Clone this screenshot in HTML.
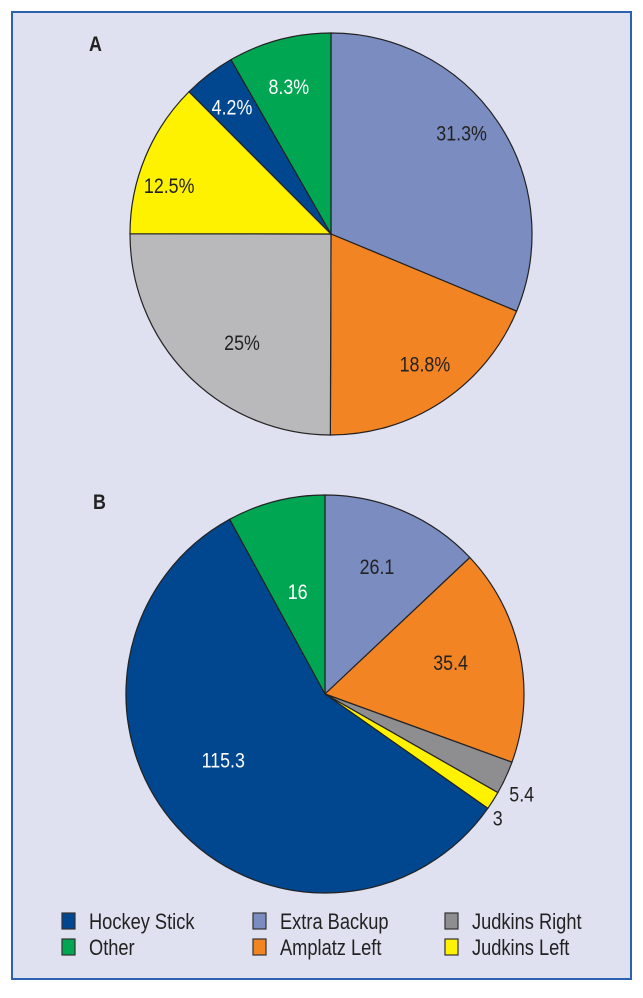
<!DOCTYPE html>
<html><head><meta charset="utf-8">
<style>
html,body{margin:0;padding:0;background:#fff;}
body{width:643px;height:993px;position:relative;overflow:hidden;font-family:"Liberation Sans",sans-serif;}
</style></head>
<body>
<svg id="chart" width="643" height="993" xmlns="http://www.w3.org/2000/svg">
<rect x="12" y="12" width="619" height="967" fill="#dfe1f0" stroke="#2a62b0" stroke-width="2"/>
<text transform="translate(89,51) scale(0.85,1)" font-family="Liberation Sans, sans-serif" font-weight="bold" font-size="21" fill="#222">A</text>
<text transform="translate(93,509) scale(0.85,1)" font-family="Liberation Sans, sans-serif" font-weight="bold" font-size="21" fill="#222">B</text>
<g id="pieA"></g>
<g id="pieB"></g>
<g id="legend"></g>
</svg>
<script>
const categoriesA = ["Extra Backup","Amplatz Left","Judkins Right","Judkins Left","Hockey Stick","Other"];
const valuesA = [31.3,18.8,25,12.5,4.2,8.3];
const labelsA = ["31.3%","18.8%","25%","12.5%","4.2%","8.3%"];
const categoriesB = ["Extra Backup","Amplatz Left","Judkins Right","Judkins Left","Hockey Stick","Other"];
const valuesB = [26.1,35.4,5.4,3,115.3,16];
const labelsB = ["26.1","35.4","5.4","3","115.3","16"];
const legendItems = ["Hockey Stick","Extra Backup","Judkins Right","Other","Amplatz Left","Judkins Left"];

const layoutA = {rad:[.82,.80,.70,.84,.80,.76], dAng:[-3.9,-2.1,-5.9,-6,-0.6,-1.1], out:[0,0,0,0,0,0]};
const layoutB = {rad:[.69,.65,1.11,1.07,.61,.53], dAng:[-1.1,-2.2,2.2,3.4,8.7,-0.7], out:[0,0,1,1,0,0]};
const colors = {"Extra Backup":"#7a8cc0","Amplatz Left":"#f28423","Judkins Right":"#b9b9bb","Judkins Left":"#fff200","Hockey Stick":"#00478f","Other":"#00a651"};
const colorsB = Object.assign({}, colors, {"Judkins Right":"#8e8e90"});
const light = {"Hockey Stick":1,"Other":1};
const NS="http://www.w3.org/2000/svg";
function mk(tag, attrs, parent){const e=document.createElementNS(NS,tag);for(const k in attrs)e.setAttribute(k,attrs[k]);parent.appendChild(e);return e;}

function drawPie(g, cats, vals, labels, cx, cy, r, cols, lay){
  const total = vals.reduce((a,b)=>a+b,0);
  let a0 = -Math.PI/2;
  vals.forEach((v,i)=>{
    const a1 = a0 + v/total*2*Math.PI;
    const x0=cx+r*Math.cos(a0), y0=cy+r*Math.sin(a0), x1=cx+r*Math.cos(a1), y1=cy+r*Math.sin(a1);
    const large = (a1-a0)>Math.PI?1:0;
    const p = mk("path",{d:`M${cx},${cy} L${x0},${y0} A${r},${r} 0 ${large} 1 ${x1},${y1} Z`,fill:cols[cats[i]],stroke:"#222","stroke-width":1.2},g);
    
    
    const am=(a0+a1)/2 + lay.dAng[i]*Math.PI/180;
    const rr = r*lay.rad[i];
    const lx=cx+rr*Math.cos(am), ly=cy+rr*Math.sin(am)+7;
    const t = mk("text",{transform:`translate(${lx},${ly}) scale(0.85,1)`,"text-anchor":"middle","font-size":21,fill:(light[cats[i]]&&!lay.out[i])?"#fff":"#222","font-family":"Liberation Sans, sans-serif"},g);
    t.textContent = labels[i];
    
    
    a0=a1;
  });
}
drawPie(document.getElementById('pieA'), categoriesA, valuesA, labelsA, 331, 234, 201, colors, layoutA);
drawPie(document.getElementById('pieB'), categoriesB, valuesB, labelsB, 325, 694, 199, colorsB, layoutB);

const lg = document.getElementById('legend');
legendItems.forEach((name,i)=>{
  const col=i%3,row=Math.floor(i/3);
  const x=[62,253,445][col], y=913+row*26;
  const r=mk("rect",{x:x,y:y,width:13,height:16,fill:colorsB[name],stroke:"#333","stroke-width":1.2},lg);
  
  
  const t=mk("text",{transform:`translate(${x+27},${y+16}) scale(0.83,1)`,"font-size":22,fill:"#222","font-family":"Liberation Sans, sans-serif"},lg);
  t.textContent=name;
  
  
});
</script>
</body></html>
